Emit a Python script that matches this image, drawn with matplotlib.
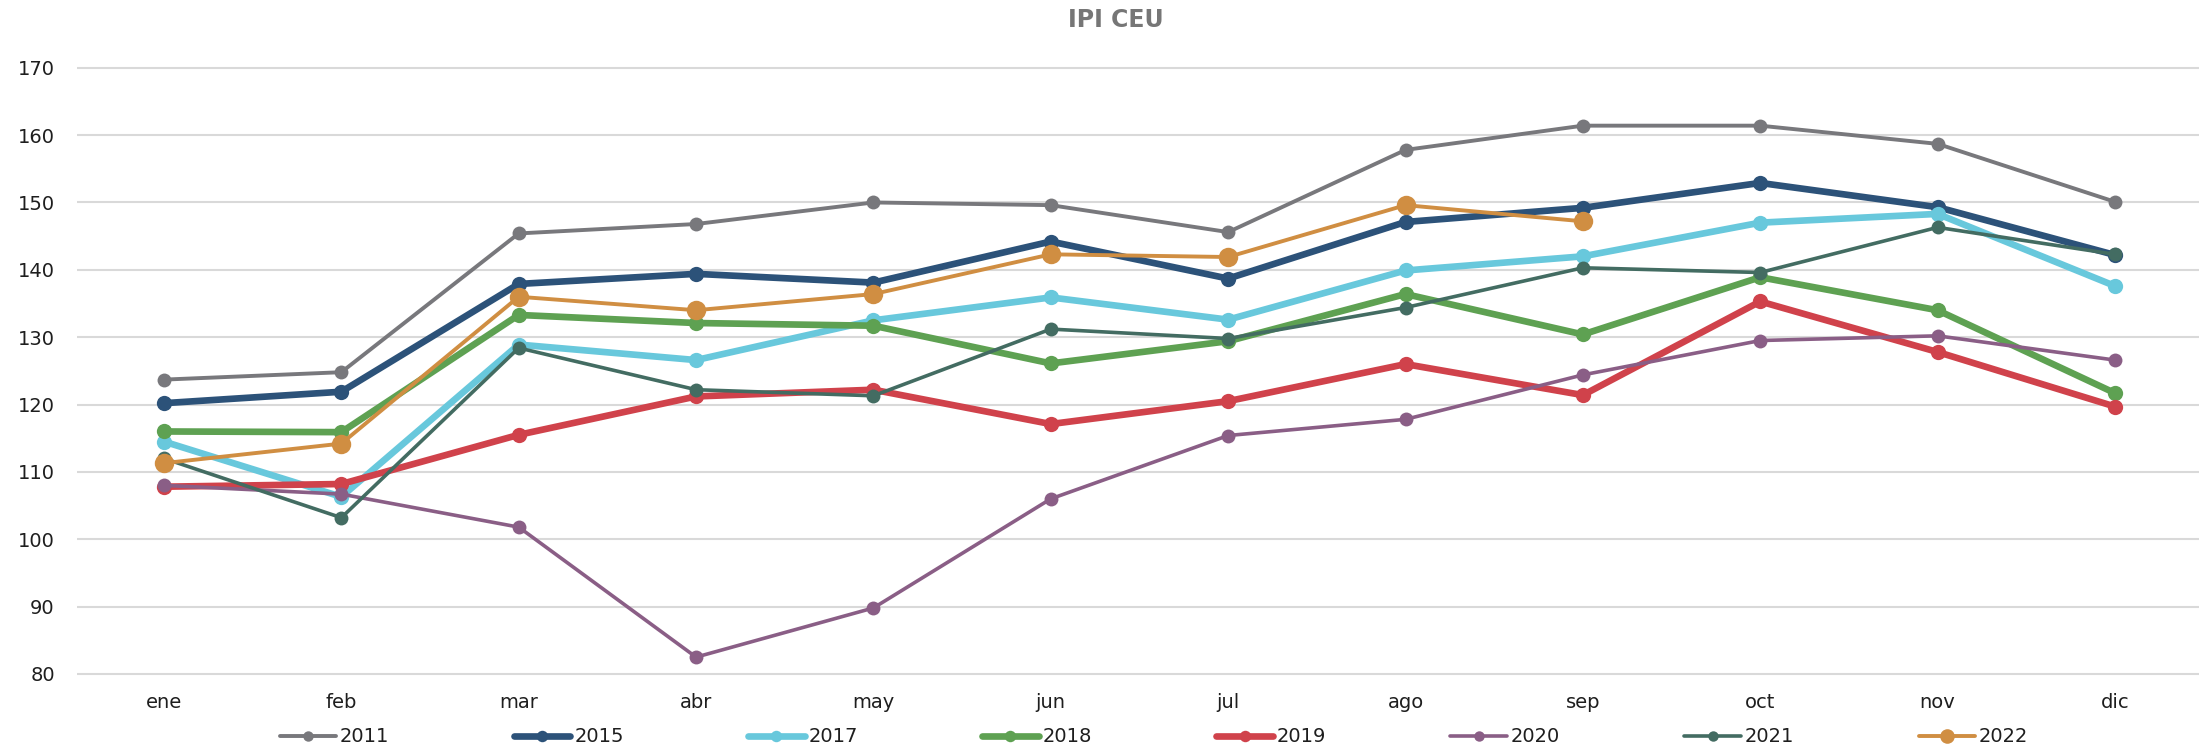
import matplotlib
matplotlib.use("Agg")
import matplotlib.pyplot as plt

plt.rcParams['font.family'] = ['DejaVu Sans']

months = ["ene", "feb", "mar", "abr", "may", "jun", "jul", "ago", "sep", "oct", "nov", "dic"]

ipi_2011 = [123.7, 124.8, 145.4, 146.8, 150.0, 149.6, 145.6, 157.8, 161.4, 161.4, 158.7, 150.1]
ipi_2015 = [120.2, 121.9, 137.9, 139.4, 138.1, 144.2, 138.7, 147.1, 149.2, 152.9, 149.3, 142.2]
ipi_2017 = [114.5, 106.3, 128.9, 126.6, 132.5, 135.9, 132.6, 139.9, 142.0, 147.0, 148.3, 137.6]
ipi_2018 = [116.0, 115.9, 133.3, 132.1, 131.7, 126.1, 129.4, 136.4, 130.4, 138.9, 134.0, 121.7]
ipi_2019 = [107.8, 108.2, 115.5, 121.2, 122.2, 117.1, 120.5, 126.0, 121.4, 135.3, 127.8, 119.7]
ipi_2020 = [108.0, 106.7, 101.8, 82.5, 89.8, 106.0, 115.4, 117.8, 124.4, 129.5, 130.2, 126.6]
ipi_2021 = [112.0, 103.2, 128.4, 122.2, 121.3, 131.2, 129.8, 134.4, 140.3, 139.6, 146.3, 142.3]
ipi_2022 = [111.3, 114.2, 136.0, 134.0, 136.4, 142.3, 141.9, 149.6, 147.2]

series = [
    ("2011", ipi_2011, "#78787c", 2.8, 10),
    ("2015", ipi_2015, "#2c5279", 4.8, 11),
    ("2017", ipi_2017, "#68c8dc", 4.8, 11),
    ("2018", ipi_2018, "#5ea152", 4.8, 11),
    ("2019", ipi_2019, "#d0424b", 4.8, 11),
    ("2020", ipi_2020, "#8a5e86", 2.6, 10),
    ("2021", ipi_2021, "#436c62", 2.6, 10),
    ("2022", ipi_2022, "#d08e42", 2.8, 14),
]

W, H = 2210, 753
fig = plt.figure(figsize=(W / 100, H / 100), dpi=100)

# axes box in pixel coordinates
left_px, right_px = 77, 2199
top_px, bottom_px = 61.0, 680.7
ax = fig.add_axes([left_px / W, 1 - bottom_px / H,
                   (right_px - left_px) / W, (bottom_px - top_px) / H])

x = list(range(len(months)))
for label, vals, color, lw, ms in series:
    ax.plot(x[:len(vals)], vals, color=color, lw=lw, marker="o", ms=ms,
            markeredgewidth=0, label=label, solid_joinstyle="round",
            solid_capstyle="round")

ax.set_xlim(-0.4905, 11.474)
ax.set_ylim(79, 171)
ax.set_yticks(range(80, 171, 10))
ax.set_xticks(x)
ax.set_xticklabels(months)
ax.tick_params(axis="both", length=0, labelsize=14, labelcolor="#1e1e1e")
ax.tick_params(axis="y", pad=16)
ax.tick_params(axis="x", pad=9)
ax.grid(axis="y", color="#d9d9d9", lw=1.5)
ax.set_axisbelow(True)
for s in ax.spines.values():
    s.set_visible(False)

fig.text(1116 / W, 1 - 20 / H, "IPI CEU", ha="center", va="center",
         fontsize=17, fontweight="bold", color="#767676")

fig.legend(loc="center", bbox_to_anchor=(1154 / W, 1 - 737 / H), ncol=8,
           frameon=False, fontsize=14, handlelength=2.9, handletextpad=0.2,
           columnspacing=6.4, markerscale=0.75, labelcolor="#1e1e1e")

fig.savefig("out.png", dpi=100, facecolor="white")
